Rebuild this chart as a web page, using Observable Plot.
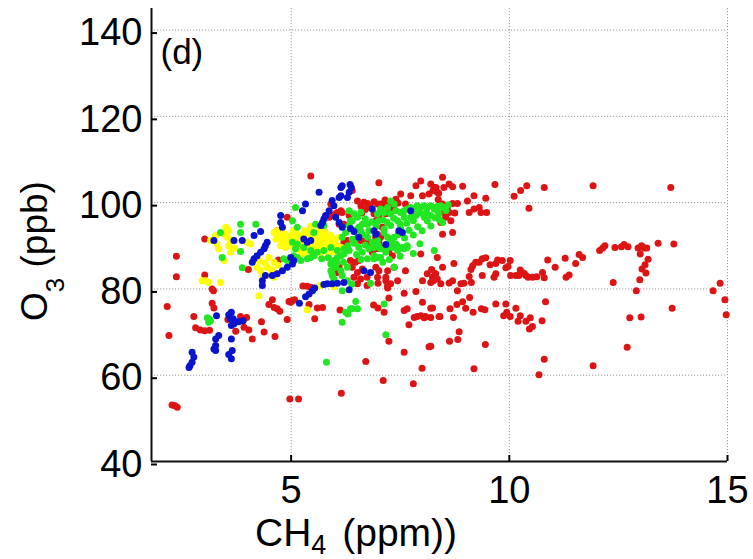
<!DOCTYPE html>
<html><head><meta charset="utf-8">
<script src="https://cdn.jsdelivr.net/npm/d3@7"></script>
<script src="https://cdn.jsdelivr.net/npm/@observablehq/plot@0.6"></script>
<style>body{margin:0;background:#fff;} #chart svg{display:block;}</style>
</head><body><div id="chart"></div>
<script>
// CH4 (ppm), O3 (ppb) pairs per series
const red = [
[2.16,75.9],[2.2,69.2],[2.27,53.1],[2.33,53.0],[2.39,52.6],[2.37,87.6],[2.37,82.8],[2.77,73.6],[2.81,71.0],[2.92,70.5],[3.02,70.3],[3.13,70.4],[3.02,91.6],[3.02,83.2],[3.19,80.0],[3.19,76.7],[3.23,75.6],[3.55,72.9],[3.84,73.6],[3.98,73.4],[3.73,70.2],[3.92,71.1],[4.03,70.5],[4.11,68.4],[4.32,72.4],[4.38,70.0],[4.49,76.4],[4.61,75.7],[4.68,75.4],[4.74,74.8],[4.57,77.5],[4.63,69.0],[4.91,72.9],[4.97,54.5],[5.17,54.5],[4.99,76.9],[4.95,77.1],[5.08,77.5],[5.03,77.3],[5.41,76.4],[5.54,73.1],[5.60,75.6],[5.72,75.7],[6.12,75.1],[6.15,55.8],[6.71,63.2],[6.89,76.3],[6.99,75.6],[7.13,74.6],[7.24,67.9],[7.11,58.8],[7.59,65.3],[7.59,75.0],[7.66,75.4],[7.70,71.7],[7.80,58.0],[7.82,73.4],[7.89,73.6],[7.97,73.8],[8.05,73.3],[8.08,73.6],[8.0,61.6],[8.16,66.6],[8.01,76.9],[8.24,75.6],[8.39,73.6],[4.02,84.5],[4.68,93.5],[4.71,86.7],[4.91,96.6],[3.22,79.6],
[5.27,80.7],[5.37,80.6],[5.45,80.4],[6.99,81.3],[7.21,80.2],[7.24,77.9],[7.59,79.0],[7.86,79.4],[8.2,81.5],[8.26,81.9],[8.7,81.9],
[5.45,106.2],[7.01,104.6],[7.86,103.9],[7.97,105.0],[8.2,104.3],[8.28,103.5],[8.35,102.4],[8.16,102.0],[8.47,105.9],[8.5,103.5],[8.62,104.3],[7.51,102.0],[7.74,101.6],[8.01,101.6],[7.62,99.7],[8.47,99.7],[8.58,98.9],[8.5,97.7],[8.62,97.7],[8.54,96.6],[8.47,92.7],[8.35,87.3],[7.97,88.1],[6.98,99.7],[7.05,99.7],[7.13,99.7],[7.21,99.3],[7.28,99.7],[6.82,98.9],[6.9,97.4],[7.01,96.6],[7.17,97.4],[7.09,94.3],[6.98,92.7],[6.52,100.4],[6.67,100.1],[5.91,99.7],[6.02,97.4],[6.17,97.7],[6.21,95.0],[6.33,97.0],[6.21,90.8],[6.29,91.2],[6.59,91.2],[6.71,91.2],[6.82,90.8],[6.94,91.2],[7.05,92.0],[7.09,89.6],[6.98,89.3],[6.86,88.5],[6.36,86.6],[6.47,86.2],[6.55,86.6],[6.4,85.0],[6.52,83.8],[6.63,84.6],[6.44,82.7],[6.59,82.3],[6.74,82.7],[6.94,85.0],[7.01,84.2],[6.98,82.7],[7.17,82.7],[7.21,80.8],[7.28,81.2],[6.74,80.8],[6.52,81.2],[7.44,81.9],[7.62,84.2],[7.36,85.0],[8.01,81.9],[8.12,83.5],[5.87,96.6],[6.4,102.8],[6.1,95.0],[6.1,85.0],[6.06,83.8],[5.94,97.0],[6.06,97.7],[6.14,98.1],[8.47,85.0],[8.31,83.5],[8.24,82.7],[8.35,82.3],[8.43,81.2],[8.7,93.1],[7.24,88.9],[7.32,87.7],[7.21,84.2],[7.17,81.9],[6.94,95.8],[6.94,92.0],[7.01,90.8],
[6.6,99.2],[6.75,99.8],[6.9,100.2],[7.35,99.2],[7.45,99.9],[6.7,98.4],[7.15,100.6],[7.4,100.8],[6.62,97.6],[7.3,98.3],
[8.70,103.7],[8.93,103.8],[8.25,102.8],[8.32,103.5],[8.38,102.2],[9.67,104.2],[10.11,101.5],[10.26,102.8],[10.40,103.9],[10.80,103.5],[11.92,103.9],[13.70,103.5],[10.45,98.7],[8.37,100.7],[8.70,99.8],[8.81,99.8],[9.04,100.4],[9.19,101.6],[9.46,101.0],[9.08,97.7],[9.19,98.5],[9.31,98.9],[9.35,97.7],[9.48,97.7],[8.75,97.6],[8.66,95.8],[8.43,95.4],
[8.73,85.9],[8.22,84.5],[8.3,83.5],[8.25,82.0],[8.62,81.4],[8.81,79.6],[8.89,81.2],[8.96,81.3],[9.08,82.9],[9.13,81.5],[9.12,84.5],[9.16,85.4],[9.23,86.2],[9.31,86.2],[9.38,87.0],[9.46,87.2],[9.38,83.1],[9.56,85.6],[9.65,82.7],[9.69,83.5],[9.69,85.9],[9.73,86.7],[9.84,86.6],[9.92,84.9],[10.02,86.6],[9.97,85.2],[10.03,83.1],[10.15,83.1],[10.22,83.1],[10.30,83.8],[10.38,83.1],[10.43,82.7],[10.53,82.7],[10.63,82.8],[10.76,83.8],[10.80,82.6],[10.25,84.4],[10.34,83.6],[10.88,86.7],[11.05,85.0],[11.28,87.1],[11.3,82.7],[11.37,83.2],[11.52,85.9],[11.60,88.0],[11.68,87.3],[12.07,88.9],[12.14,89.5],[12.19,90.0],[12.42,89.6],[12.57,89.8],[12.63,90.3],[12.72,89.8],[12.95,89.5],[13.03,90.0],[13.09,89.5],[13.15,89.5],[13.0,88.1],[13.18,86.9],[13.11,85.6],[13.04,84.6],[13.13,83.7],[12.99,82.1],[12.91,79.6],[13.41,90.6],[13.77,90.4],[12.38,81.5],[14.83,81.3],[14.67,79.6],[14.94,77.5],[14.97,74.0],[13.73,75.5],[12.76,73.3],[13.02,73.5],[12.70,66.5],[11.92,62.2],[10.80,63.7],[10.68,60.1],[9.19,61.5],[9.45,67.1],[8.63,67.9],[8.82,68.3],[8.85,70.1],[8.2,75.5],[8.2,73.4],[8.41,73.6],[8.64,75.4],[8.72,73.4],[8.80,76.4],[8.93,77.0],[9.0,75.5],[9.09,78.0],[9.17,74.6],[9.36,75.4],[9.44,75.2],[9.69,76.5],[9.92,76.5],[9.87,73.8],[9.94,74.6],[10.02,73.6],[10.15,75.5],[10.20,72.5],[10.25,73.8],[10.38,72.5],[10.48,73.3],[10.46,70.7],[10.53,71.3],[10.75,72.6],[10.83,77.0],[8.2,66.7]
];
const yellow = [
[2.96,81.9],[3.04,81.9],[3.11,81.5],[3.38,81.5],[3.5,94.3],[3.57,93.5],[3.54,92.0],[3.61,91.2],[3.57,90.0],[3.61,88.5],[3.46,86.6],[3.15,91.2],[3.34,89.3],[3.27,92.4],[3.7,89.5],[3.3,90.5],[3.45,92.8],[3.99,90.8],[4.07,90.4],[4.26,78.4],[4.22,85.0],[4.3,84.2],[4.45,85.0],[4.53,83.1],[4.61,82.7],[4.68,83.5],[4.61,86.2],[4.49,87.3],[4.4,86.0],[4.55,84.5],[4.35,83.0],[4.7,85.5],[4.27,86.5],[4.76,92.0],[4.83,91.2],[4.91,91.6],[4.99,92.4],[4.76,90.0],[4.87,89.6],[4.61,93.1],[4.68,93.5],[5.37,75.2],[5.66,80.8],[5.98,80.5],
[4.65,91.5],[4.72,92.3],[4.8,91.0],[4.85,92.8],[4.9,90.2],[4.95,91.4],[5.0,92.0],[5.02,90.6],[5.06,89.5],[5.1,91.8],[5.12,90.2],[5.15,92.7],[5.18,89.0],[5.2,91.0],[5.24,90.0],[5.27,92.2],[5.3,93.5],[5.32,88.6],[5.35,91.5],[5.38,89.8],[5.4,92.6],[5.43,90.5],[5.45,93.8],[5.48,88.8],[5.5,91.8],[5.52,90.0],[5.55,92.8],[5.57,89.4],[5.6,91.2],[5.62,93.0],[5.65,90.4],[5.68,88.5],[5.7,92.0],[5.72,89.8],[5.75,91.0],[5.78,93.2],[5.8,90.2],[5.83,91.8],[5.86,89.2],[5.9,92.4],[5.93,90.8],[5.96,88.6],[6.0,91.6],[6.04,90.2],[6.1,92.0],[6.15,89.6],[5.55,87.8],[5.45,94.5],[5.65,94.0],[5.25,88.2],[5.05,93.5],[5.85,87.6],[5.4,87.2]
];
const green = [
[3.08,73.3],[3.15,72.6],[3.11,72.3],[3.13,73.0],[3.38,93.1],[3.42,87.3],[3.84,95.0],[4.19,95.0],[3.84,93.1],[3.84,88.7],[3.88,84.9],[5.1,98.9],[5.03,95.8],[5.14,94.3],[5.56,95.0],[4.83,87.0],[4.91,86.6],[5.06,87.7],[5.14,87.3],[5.22,86.6],[5.37,87.0],[5.45,87.3],[5.52,87.7],[5.03,90.8],[5.1,89.3],[5.91,85.8],[5.98,86.6],[6.06,87.3],[6.14,87.7],[6.21,88.1],[6.33,88.9],[5.91,84.2],[5.94,83.1],[6.02,85.0],[6.17,92.0],[6.25,93.1],[6.33,94.7],[6.4,95.8],[5.75,94.7],[5.52,93.1],[5.14,90.4],[5.29,89.6],[5.45,88.9],[5.6,88.5],[5.75,88.9],[5.91,89.6],[6.06,88.9],[6.21,89.3],[5.98,85.4],[5.94,83.5],[6.14,84.2],[6.29,85.0],[6.17,83.1],[6.29,81.9],[5.98,82.3],[6.33,98.1],[6.44,97.4],[6.36,95.8],[6.52,96.6],[6.55,94.3],[6.63,95.0],[6.44,93.5],[6.52,92.0],[6.63,92.7],[6.75,95.0],[6.78,93.5],[6.75,92.0],[6.86,90.8],[6.78,89.3],[6.63,88.5],[6.75,87.0],[6.9,87.0],[7.05,87.3],[7.17,88.5],[7.32,89.6],[7.43,90.0],[7.55,89.6],[7.66,89.6],[7.28,90.8],[7.36,92.0],[7.21,92.0],[7.13,93.1],
[7.28,100.4],[7.36,99.7],[7.21,98.9],[7.05,98.5],[7.13,97.7],[6.98,97.4],[7.28,97.4],[7.40,98.1],[7.51,97.7],[7.59,98.1],[7.66,98.5],[7.74,98.9],[7.82,98.5],[7.89,99.3],[7.97,98.9],[8.05,99.3],[8.12,98.9],[8.20,99.3],[8.28,98.9],[8.35,99.1],[8.43,99.3],[8.50,98.8],[8.39,97.4],[8.47,95.4],[8.05,96.6],[7.86,97.0],[7.74,96.6],[7.59,96.6],[7.44,95.8],[7.28,94.7],[7.13,93.9],[7.51,93.9],[6.98,91.2],[6.90,89.6],[7.05,89.3],[7.21,89.6],[7.44,88.9],[7.59,89.3],[7.66,90.0],[7.40,90.4],[6.90,87.7],[6.98,87.3],[7.36,85.0],[8.28,88.9],[8.12,95.8],[8.28,98.5],[8.35,98.1],
[6.6,97.8],[6.7,96.2],[6.85,95.5],[6.95,94.5],[7.0,95.8],[7.1,96.0],[7.2,95.4],[7.35,96.4],[7.5,95.0],[7.65,95.2],[7.8,95.8],[7.95,97.6],[8.1,97.8],[8.2,97.0],[8.3,96.5],[7.9,94.4],[7.7,93.6],[7.45,92.6],[7.6,91.8],[7.3,91.5],[7.0,90.0],[6.7,90.2],[6.55,89.6],[6.45,90.6],[6.3,90.0],[6.5,88.0],[6.6,86.8],[7.1,86.2],[7.25,86.8],[7.5,87.6],[7.8,88.2],[7.95,90.5],[7.8,92.5],[8.0,93.5],[8.2,94.6],[8.4,96.0],[8.6,99.5],[8.55,98.2],[6.2,86.2],[6.05,86.0],[5.85,87.2],[5.7,87.0],[6.4,91.5],[6.5,93.8],[6.6,93.4],
[6.17,79.6],[6.39,81.1],[6.82,81.3],[6.17,72.3],[6.25,74.6],[6.30,74.2],[6.40,75.4],[6.52,75.4],[6.48,77.1],[6.36,75.4],[7.13,76.5],[7.17,69.4],[5.81,63.0]
];
const blue = [
[2.73,65.3],[2.77,64.2],[2.73,63.0],[2.68,62.2],[2.66,61.8],[3.29,73.8],[3.34,69.2],[3.27,68.4],[3.27,66.9],[3.23,66.1],[3.27,65.7],[3.57,74.0],[3.63,74.6],[3.60,73.1],[3.67,73.1],[3.73,72.4],[3.69,71.9],[3.63,71.5],[3.8,72.4],[3.9,72.6],[3.63,68.4],[3.65,65.7],[3.57,64.8],[3.63,63.8],[5.19,76.7],
[5.33,78.2],[5.41,78.8],[5.49,79.6],[5.54,80.2],[5.75,81.0],[5.83,81.2],[5.94,81.2],[6.06,81.3],[6.21,81.5],[6.33,79.8],
[5.64,102.4],[6.14,103.5],[6.17,103.9],[6.35,104.2],[6.38,103.5],[6.33,102.4],[6.14,101.6],[6.1,101.2],[6.29,101.2],[5.33,99.7],[5.26,98.1],[5.94,100.5],[5.98,99.3],[5.87,98.1],[5.79,97.0],[5.75,96.2],[5.72,95.4],[5.68,94.7],[6.02,96.6],[6.1,95.4],[6.17,94.3],[4.76,97.0],[4.76,95.4],[4.80,94.3],[3.23,91.2],[3.88,91.2],[3.69,91.2],[4.15,92.4],[4.3,93.3],[4.45,90.8],[4.41,90.0],[4.38,89.3],[4.3,88.5],[4.22,87.7],[4.15,87.0],[4.11,86.2],[4.34,81.9],[4.41,83.1],[4.57,83.1],[4.68,83.5],[4.8,84.2],[4.91,85.0],[5.03,85.8],[5.06,86.6],[4.99,87.3],[4.34,80.8],[5.29,91.6],[5.37,90.8],[5.45,91.2],[6.55,92.0],[6.9,93.5],[6.94,92.7],[7.17,90.3],[7.47,93.5],[7.55,93.1],[6.67,84.2],[6.82,83.8],[6.86,98.5],[7.74,98.1],[6.36,94.0],[6.44,93.3]
];

const seriesNames = ["S1", "S2", "S3", "S4"];          // red, yellow, green, blue
const seriesColors = ["#dc1414", "#ffff00", "#22e622", "#0a14cc"];
const xTicks = [5, 10, 15];
const yTicks = [40, 60, 80, 100, 120, 140];
const xDomain = [1.8, 15];
const yDomain = [40, 145];
const panelLabel = "(d)";

const toRows = (arr, s) => arr.map(([x, y]) => ({x, y, s}));
const rows = [
  ...toRows(red, "S1"), ...toRows(yellow, "S2"),
  ...toRows(green, "S3"), ...toRows(blue, "S4")
];

const font = "'Liberation Sans', Arial, Helvetica, sans-serif";

const chart = Plot.plot({
  width: 753, height: 559,
  marginLeft: 151, marginRight: 26, marginTop: 8, marginBottom: 98,
  style: {fontFamily: font, background: "#fff", color: "#000"},
  x: {domain: xDomain},
  y: {domain: yDomain},
  color: {type: "ordinal", domain: seriesNames, range: seriesColors},
  marks: [
    Plot.ruleX(xTicks, {stroke: "#9a9a9a", strokeDasharray: "1.2,1.8", strokeWidth: 1}),
    Plot.ruleY(yTicks.filter(d => d > yDomain[0]), {stroke: "#9a9a9a", strokeDasharray: "1.2,1.8", strokeWidth: 1}),
    Plot.dot(rows, {x: "x", y: "y", fill: "s", r: 3.5}),
    Plot.ruleX([xDomain[0]], {stroke: "#111", strokeWidth: 2}),
    Plot.ruleY([yDomain[0]], {stroke: "#111", strokeWidth: 2}),
    Plot.axisX({ticks: xTicks, tickSize: -6, tickPadding: 21, fontSize: 38, label: null, strokeWidth: 2}),
    Plot.axisY({ticks: yTicks, tickSize: -6, tickPadding: 15, fontSize: 38, label: null, strokeWidth: 2, dy: 3}),
    Plot.text([panelLabel], {text: d => d, frameAnchor: "top-left", textAnchor: "start", dx: 9, dy: 31, fontSize: 35})
  ]
});

document.getElementById("chart").appendChild(chart);

const svg = d3.select(chart);
// y-axis label O3 (ppb)
const yl = svg.append("text")
  .attr("transform", "translate(47,321) rotate(-90)")
  .attr("text-anchor", "start")
  .attr("font-family", font).attr("font-size", 37).attr("fill", "#000");
yl.append("tspan").text("O");
yl.append("tspan").attr("font-size", 26).attr("dy", 17).text("3");
yl.append("tspan").attr("dy", -17).text(" (ppb)");

// x-axis label CH4 (ppm))
const xl = svg.append("text")
  .attr("transform", "translate(255,546)")
  .attr("text-anchor", "start")
  .attr("font-family", font).attr("font-size", 39).attr("fill", "#000");
xl.append("tspan").text("CH");
xl.append("tspan").attr("font-size", 27).attr("dy", 8).text("4");
xl.append("tspan").attr("dy", -8).attr("dx", 5).text(" (ppm))");
</script>
</body></html>
